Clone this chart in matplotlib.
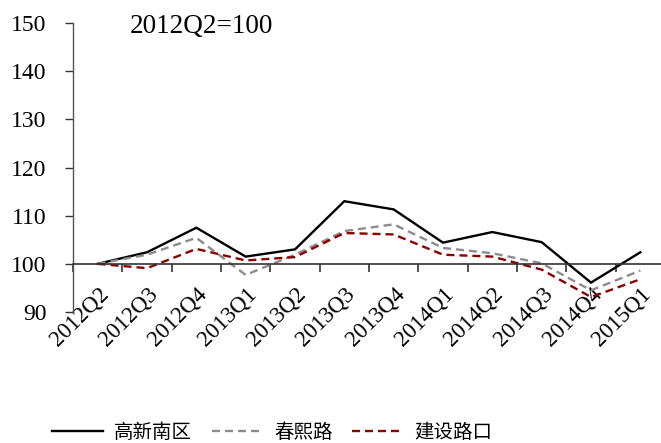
import matplotlib
matplotlib.use("Agg")
import matplotlib.pyplot as plt
from matplotlib.lines import Line2D

quarters = ["2012Q2", "2012Q3", "2012Q4", "2013Q1", "2013Q2", "2013Q3",
            "2013Q4", "2014Q1", "2014Q2", "2014Q3", "2014Q4", "2015Q1"]
gaoxin_nanqu = [100, 102.4, 107.5, 101.5, 103.0, 113.0, 111.3, 104.4, 106.6, 104.5, 96.1, 102.4]
chunxi_lu = [100, 101.9, 105.4, 97.7, 101.9, 106.8, 108.2, 103.3, 102.2, 100.1, 94.5, 98.6]
jianshe_lukou = [100, 99.1, 103.1, 100.7, 101.4, 106.4, 106.1, 101.9, 101.5, 98.8, 93.1, 96.8]
series_names = ["高新南区", "春熙路", "建设路口"]
y_ticks = [90, 100, 110, 120, 130, 140, 150]
base_note = "2012Q2=100"

serif = ["Liberation Serif", "DejaVu Serif"]
cjk = ["Noto Sans CJK SC", "DejaVu Sans"]

fig = plt.figure(figsize=(6.61, 4.43), dpi=100)
ax = fig.add_axes([73 / 661, 1 - 312 / 443, 592 / 661, (312 - 23) / 443])

x = list(range(len(quarters)))
lw = 1.7
dash = (3.4, 2.1)
ax.plot(x, gaoxin_nanqu, color="black", lw=lw, solid_joinstyle="miter")
ax.plot(x, chunxi_lu, color="#8c8c8c", lw=lw, dashes=dash)
ax.plot(x, jianshe_lukou, color="#8b0000", lw=lw, dashes=dash)

ax.set_xlim(-0.5, len(quarters) - 0.5)
ax.set_ylim(90, 150)
ax.set_yticks(y_ticks)
ax.set_yticklabels([str(v) for v in y_ticks], fontfamily=serif, fontsize=17)
ax.tick_params(axis="y", direction="out", length=6, width=1, pad=13, color="#333333")

# x axis drawn at the 100 baseline; ticks between categories, labels at centres
ax.spines["bottom"].set_position(("data", 100))
ax.spines["top"].set_visible(False)
ax.spines["right"].set_visible(False)
ax.spines["left"].set_color("#555555")
ax.spines["bottom"].set_color("#333333")
ax.spines["left"].set_linewidth(1)
ax.spines["bottom"].set_linewidth(1.2)

ax.set_xticks(x)
ax.set_xticklabels(quarters, rotation=45, ha="right", rotation_mode="anchor",
                   fontfamily=serif, fontsize=16.5)
ax.tick_params(axis="x", which="major", length=0, pad=14)
ax.set_xticks([i - 0.5 for i in range(len(quarters) + 1)], minor=True)
ax.tick_params(axis="x", which="minor", direction="out", length=6, width=1.2, color="#333333")

ax.text(57 / 592, (312 - 33) / 289, base_note, transform=ax.transAxes, fontfamily=serif,
        fontsize=19.5, va="baseline", ha="left")

handles = [
    Line2D([], [], color="black", lw=lw),
    Line2D([], [], color="#8c8c8c", lw=lw, dashes=dash),
    Line2D([], [], color="#8b0000", lw=lw, dashes=dash),
]
fig.legend(handles, series_names, loc="center", bbox_to_anchor=(272 / 661, 1 - 432 / 443),
           ncol=3, frameon=False, prop={"family": cjk, "size": 14},
           handlelength=2.6, handletextpad=0.6, columnspacing=1.0)

fig.savefig("out.png", dpi=100)
